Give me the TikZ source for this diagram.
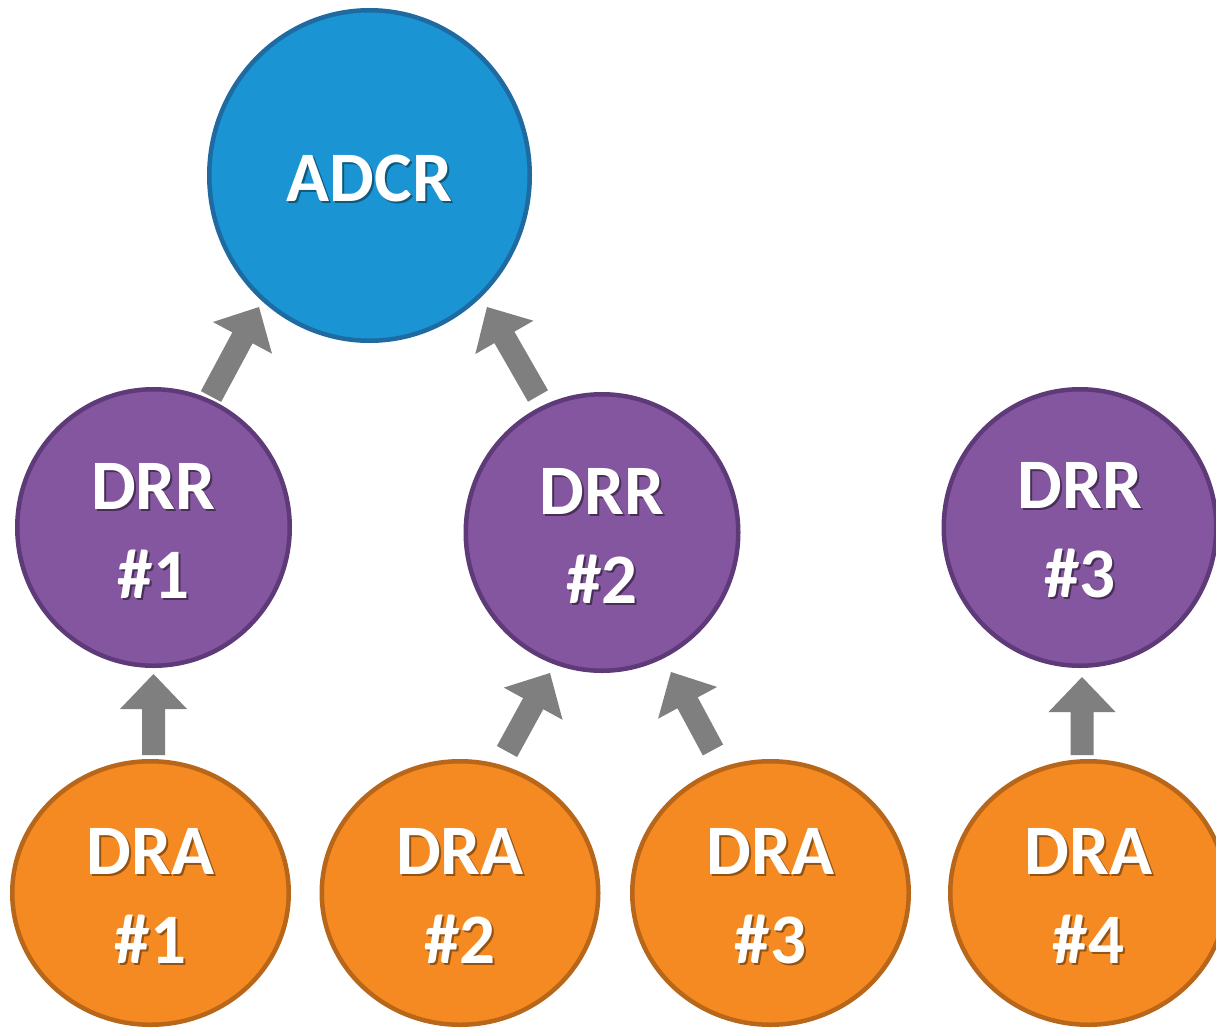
\documentclass[tikz,border=0pt]{standalone}
\usepackage{fontspec}
\setmainfont{Carlito}
\usetikzlibrary{shapes.geometric,calc}
\definecolor{adcrfill}{RGB}{26,148,210}
\definecolor{adcrline}{RGB}{31,106,160}
\definecolor{drrfill}{RGB}{132,86,160}
\definecolor{drrline}{RGB}{94,58,120}
\definecolor{drafill}{RGB}{244,138,33}
\definecolor{draline}{RGB}{184,102,26}
\definecolor{arrowgray}{RGB}{127,127,127}
\colorlet{shc}{black!50}
\newcommand\sh[1]{\raisebox{-4pt}[\height][\depth]{\rlap{\hspace{2pt}\raisebox{-2pt}{\textcolor{shc}{#1}}}#1}}
\newcommand\blockarrow[2]{%
  \path ($(#2)!35pt!(#1)$) coordinate (ba-neck);
  \fill[arrowgray]
    ($(#1)!11.5pt!90:(#2)$) -- ($(ba-neck)!11.5pt!90:(#2)$) --
    ($(ba-neck)!33.5pt!90:(#2)$) -- (#2) --
    ($(ba-neck)!33.5pt!-90:(#2)$) -- ($(ba-neck)!11.5pt!-90:(#2)$) --
    ($(#1)!11.5pt!-90:(#2)$) -- cycle;
}
\tikzset{
  bubble/.style={ellipse, inner sep=0pt, line width=4.5pt, text=white, align=center,
    font=\bfseries\fontsize{71}{89}\selectfont},
  adcrnode/.style={bubble, fill=adcrfill, draw=adcrline,
    minimum width=320.5pt, minimum height=330.5pt,
    execute at begin node={\colorlet{shc}{adcrfill!60!black}}},
  drrnode/.style={bubble, fill=drrfill, draw=drrline,
    minimum width=272.5pt, minimum height=276.5pt,
    execute at begin node={\colorlet{shc}{drrfill!55!black}}},
  dranode/.style={bubble, fill=drafill, draw=draline,
    minimum width=276.5pt, minimum height=263.5pt,
    execute at begin node={\colorlet{shc}{drafill!60!black}}},
}
\begin{document}
\begin{tikzpicture}[x=1pt,y=-1pt]
\useasboundingbox[fill=white] (0,0) rectangle (1216,1029);
\node[adcrnode] (adcr) at (369.5,175.5) {\sh{ADCR}};
\node[drrnode] (drr1) at (153.5,527.5) {\sh{DRR}\\\sh{\#1}};
\node[drrnode] (drr2) at (602,532.5) {\sh{DRR}\\\sh{\#2}};
\node[drrnode] (drr3) at (1080,527.5) {\sh{DRR}\\\sh{\#3}};
\node[dranode] (dra1) at (150.5,893) {\sh{DRA}\\\sh{\#1}};
\node[dranode] (dra2) at (460,893) {\sh{DRA}\\\sh{\#2}};
\node[dranode] (dra3) at (770.5,893) {\sh{DRA}\\\sh{\#3}};
\node[dranode] (dra4) at (1088.5,893) {\sh{DRA}\\\sh{\#4}};
% arrow end points
\coordinate (t1) at (153.5,755);  \coordinate (h1) at (153.5,674);
\coordinate (t2) at (507,751.5);  \coordinate (h2) at (550,673);
\coordinate (t3) at (713,750);    \coordinate (h3) at (671,672);
\coordinate (t4) at (1082,755);   \coordinate (h4) at (1082,677);
\coordinate (t5) at (211,396.5);  \coordinate (h5) at (259,307);
\coordinate (t6) at (538,396);    \coordinate (h6) at (487,307);
\blockarrow{t1}{h1}
\blockarrow{t2}{h2}
\blockarrow{t3}{h3}
\blockarrow{t4}{h4}
\blockarrow{t5}{h5}
\blockarrow{t6}{h6}
\end{tikzpicture}
\end{document}
